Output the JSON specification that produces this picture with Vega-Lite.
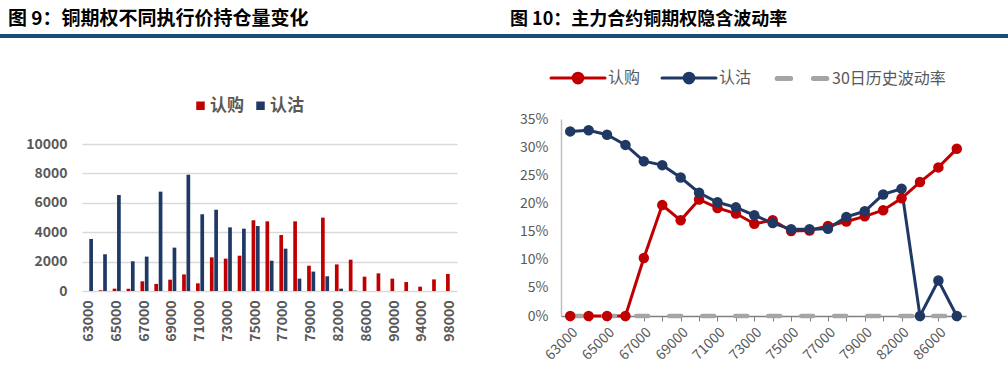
{
  "$schema": "https://vega.github.io/schema/vega-lite/v6.json",
  "padding": {"top": 10, "left": 0, "right": 0, "bottom": 0},
  "background": "white",
  "config": {"font": "Noto Sans CJK SC", "view": {"stroke": null}},
  "datasets": {
    "oi": [
      {"strike": 63000, "series": "认购", "oi": 0}, {"strike": 63000, "series": "认沽", "oi": 3540},
      {"strike": 64000, "series": "认购", "oi": 50}, {"strike": 64000, "series": "认沽", "oi": 2500},
      {"strike": 65000, "series": "认购", "oi": 160}, {"strike": 65000, "series": "认沽", "oi": 6530},
      {"strike": 66000, "series": "认购", "oi": 160}, {"strike": 66000, "series": "认沽", "oi": 2020},
      {"strike": 67000, "series": "认购", "oi": 660}, {"strike": 67000, "series": "认沽", "oi": 2340},
      {"strike": 68000, "series": "认购", "oi": 480}, {"strike": 68000, "series": "认沽", "oi": 6760},
      {"strike": 69000, "series": "认购", "oi": 770}, {"strike": 69000, "series": "认沽", "oi": 2950},
      {"strike": 70000, "series": "认购", "oi": 1130}, {"strike": 70000, "series": "认沽", "oi": 7910},
      {"strike": 71000, "series": "认购", "oi": 520}, {"strike": 71000, "series": "认沽", "oi": 5220},
      {"strike": 72000, "series": "认购", "oi": 2290}, {"strike": 72000, "series": "认沽", "oi": 5530},
      {"strike": 73000, "series": "认购", "oi": 2200}, {"strike": 73000, "series": "认沽", "oi": 4330},
      {"strike": 74000, "series": "认购", "oi": 2400}, {"strike": 74000, "series": "认沽", "oi": 4240},
      {"strike": 75000, "series": "认购", "oi": 4810}, {"strike": 75000, "series": "认沽", "oi": 4420},
      {"strike": 76000, "series": "认购", "oi": 4740}, {"strike": 76000, "series": "认沽", "oi": 2060},
      {"strike": 77000, "series": "认购", "oi": 3810}, {"strike": 77000, "series": "认沽", "oi": 2880},
      {"strike": 78000, "series": "认购", "oi": 4740}, {"strike": 78000, "series": "认沽", "oi": 840},
      {"strike": 79000, "series": "认购", "oi": 1720}, {"strike": 79000, "series": "认沽", "oi": 1320},
      {"strike": 80000, "series": "认购", "oi": 4990}, {"strike": 80000, "series": "认沽", "oi": 1000},
      {"strike": 82000, "series": "认购", "oi": 1810}, {"strike": 82000, "series": "认沽", "oi": 160},
      {"strike": 84000, "series": "认购", "oi": 2130}, {"strike": 84000, "series": "认沽", "oi": 30},
      {"strike": 86000, "series": "认购", "oi": 975}, {"strike": 86000, "series": "认沽", "oi": 0},
      {"strike": 88000, "series": "认购", "oi": 1200}, {"strike": 88000, "series": "认沽", "oi": 0},
      {"strike": 90000, "series": "认购", "oi": 840}, {"strike": 90000, "series": "认沽", "oi": 0},
      {"strike": 92000, "series": "认购", "oi": 610}, {"strike": 92000, "series": "认沽", "oi": 0},
      {"strike": 94000, "series": "认购", "oi": 295}, {"strike": 94000, "series": "认沽", "oi": 0},
      {"strike": 96000, "series": "认购", "oi": 790}, {"strike": 96000, "series": "认沽", "oi": 0},
      {"strike": 98000, "series": "认购", "oi": 1160}, {"strike": 98000, "series": "认沽", "oi": 0}
    ],
    "iv": [
      {"strike": 63000, "series": "认购", "iv": 0}, {"strike": 63000, "series": "认沽", "iv": 0.328}, {"strike": 63000, "series": "30日历史波动率", "iv": 0},
      {"strike": 64000, "series": "认购", "iv": 0}, {"strike": 64000, "series": "认沽", "iv": 0.330}, {"strike": 64000, "series": "30日历史波动率", "iv": 0},
      {"strike": 65000, "series": "认购", "iv": 0}, {"strike": 65000, "series": "认沽", "iv": 0.322}, {"strike": 65000, "series": "30日历史波动率", "iv": 0},
      {"strike": 66000, "series": "认购", "iv": 0}, {"strike": 66000, "series": "认沽", "iv": 0.304}, {"strike": 66000, "series": "30日历史波动率", "iv": 0},
      {"strike": 67000, "series": "认购", "iv": 0.103}, {"strike": 67000, "series": "认沽", "iv": 0.275}, {"strike": 67000, "series": "30日历史波动率", "iv": 0},
      {"strike": 68000, "series": "认购", "iv": 0.197}, {"strike": 68000, "series": "认沽", "iv": 0.268}, {"strike": 68000, "series": "30日历史波动率", "iv": 0},
      {"strike": 69000, "series": "认购", "iv": 0.170}, {"strike": 69000, "series": "认沽", "iv": 0.246}, {"strike": 69000, "series": "30日历史波动率", "iv": 0},
      {"strike": 70000, "series": "认购", "iv": 0.207}, {"strike": 70000, "series": "认沽", "iv": 0.219}, {"strike": 70000, "series": "30日历史波动率", "iv": 0},
      {"strike": 71000, "series": "认购", "iv": 0.192}, {"strike": 71000, "series": "认沽", "iv": 0.202}, {"strike": 71000, "series": "30日历史波动率", "iv": 0},
      {"strike": 72000, "series": "认购", "iv": 0.182}, {"strike": 72000, "series": "认沽", "iv": 0.193}, {"strike": 72000, "series": "30日历史波动率", "iv": 0},
      {"strike": 73000, "series": "认购", "iv": 0.164}, {"strike": 73000, "series": "认沽", "iv": 0.179}, {"strike": 73000, "series": "30日历史波动率", "iv": 0},
      {"strike": 74000, "series": "认购", "iv": 0.170}, {"strike": 74000, "series": "认沽", "iv": 0.165}, {"strike": 74000, "series": "30日历史波动率", "iv": 0},
      {"strike": 75000, "series": "认购", "iv": 0.151}, {"strike": 75000, "series": "认沽", "iv": 0.154}, {"strike": 75000, "series": "30日历史波动率", "iv": 0},
      {"strike": 76000, "series": "认购", "iv": 0.152}, {"strike": 76000, "series": "认沽", "iv": 0.154}, {"strike": 76000, "series": "30日历史波动率", "iv": 0},
      {"strike": 77000, "series": "认购", "iv": 0.160}, {"strike": 77000, "series": "认沽", "iv": 0.155}, {"strike": 77000, "series": "30日历史波动率", "iv": 0},
      {"strike": 78000, "series": "认购", "iv": 0.168}, {"strike": 78000, "series": "认沽", "iv": 0.176}, {"strike": 78000, "series": "30日历史波动率", "iv": 0},
      {"strike": 79000, "series": "认购", "iv": 0.177}, {"strike": 79000, "series": "认沽", "iv": 0.186}, {"strike": 79000, "series": "30日历史波动率", "iv": 0},
      {"strike": 80000, "series": "认购", "iv": 0.188}, {"strike": 80000, "series": "认沽", "iv": 0.216}, {"strike": 80000, "series": "30日历史波动率", "iv": 0},
      {"strike": 82000, "series": "认购", "iv": 0.209}, {"strike": 82000, "series": "认沽", "iv": 0.226}, {"strike": 82000, "series": "30日历史波动率", "iv": 0},
      {"strike": 84000, "series": "认购", "iv": 0.238}, {"strike": 84000, "series": "认沽", "iv": 0}, {"strike": 84000, "series": "30日历史波动率", "iv": 0},
      {"strike": 86000, "series": "认购", "iv": 0.264}, {"strike": 86000, "series": "认沽", "iv": 0.063}, {"strike": 86000, "series": "30日历史波动率", "iv": 0},
      {"strike": 88000, "series": "认购", "iv": 0.297}, {"strike": 88000, "series": "认沽", "iv": 0}, {"strike": 88000, "series": "30日历史波动率", "iv": 0}
    ]
  },
  "spacing": 32,
  "resolve": {"scale": {"color": "independent", "x": "independent", "y": "independent"}, "legend": {"color": "independent"}},
  "vconcat": [
    {
      "spacing": 0,
      "hconcat": [
        {
          "width": 504, "height": 4,
          "title": {"text": "图 9：铜期权不同执行价持仓量变化", "anchor": "start", "dx": 8, "fontSize": 19, "fontWeight": "bold", "color": "#000000", "offset": 5},
          "data": {"values": [{"k": 1}]},
          "mark": {"type": "rect", "color": "#154f78"},
          "encoding": {}
        },
        {
          "width": 504, "height": 4,
          "title": {"text": "图 10：主力合约铜期权隐含波动率", "anchor": "start", "dx": 6, "fontSize": 18, "fontWeight": "bold", "color": "#000000", "offset": 5},
          "data": {"values": [{"k": 1}]},
          "mark": {"type": "rect", "color": "#154f78"},
          "encoding": {}
        }
      ]
    },
    {
      "spacing": 60,
      "resolve": {"scale": {"color": "independent", "x": "independent", "y": "independent"}, "legend": {"color": "independent"}},
      "hconcat": [
        {
          "width": 457, "height": 172,
          "data": {"name": "oi"},
          "mark": {"type": "bar"},
          "encoding": {
            "x": {
              "field": "strike", "type": "ordinal",
              "scale": {"range": [82, 457], "paddingInner": 0.42, "paddingOuter": 0.21},
              "axis": {"title": null, "labelAngle": -90, "labelExpr": "(datum.value < 81000 && datum.value % 2000 == 1000) || (datum.value > 81000 && datum.value % 4000 == 2000) ? datum.label : ''", "labelFontSize": 14, "labelFontWeight": "bold", "labelColor": "#595959", "ticks": false, "domain": false, "labelPadding": 9, "labelOverlap": false}
            },
            "xOffset": {"field": "series", "type": "nominal", "sort": ["认购", "认沽"], "scale": {"paddingInner": 0.15}},
            "y": {
              "field": "oi", "type": "quantitative",
              "scale": {"domain": [0, 11701]},
              "axis": {"title": null, "values": [0, 2000, 4000, 6000, 8000, 10000], "format": "d", "offset": -82, "grid": true, "gridColor": "#d9d9d9", "gridWidth": 1.5, "domain": false, "ticks": false, "labelPadding": 15, "labelFontSize": 14, "labelFontWeight": "bold", "labelColor": "#595959"}
            },
            "color": {
              "field": "series", "type": "nominal", "sort": ["认购", "认沽"],
              "scale": {"domain": ["认购", "认沽"], "range": ["#C00000", "#1F3864"]},
              "legend": {"title": null, "orient": "none", "legendX": 192, "legendY": -22, "padding": 0, "direction": "horizontal", "symbolType": "square", "symbolSize": 72, "labelFontSize": 17, "labelFontWeight": "bold", "labelColor": "#595959", "labelOffset": 1, "columnPadding": 8}
            }
          }
        },
        {
          "width": 405, "height": 197,
          "data": {"name": "iv"},
          "encoding": {
            "x": {
              "field": "strike", "type": "ordinal",
              "scale": {"type": "point", "padding": 0.5},
              "axis": {"title": null, "labelAngle": -45, "labelExpr": "(datum.value < 81000 && datum.value % 2000 == 1000) || (datum.value > 81000 && datum.value % 4000 == 2000) ? datum.label : ''", "labelFontSize": 14, "labelColor": "#595959", "domainColor": "#7f7f7f", "domainWidth": 1.5, "tickColor": "#7f7f7f", "tickSize": 5, "ticks": true, "labelPadding": 4, "labelOverlap": false, "grid": false}
            },
            "y": {
              "field": "iv", "type": "quantitative",
              "scale": {"domain": [0, 0.35]},
              "axis": {"title": null, "values": [0, 0.05, 0.1, 0.15, 0.2, 0.25, 0.3, 0.35], "format": ".0%", "grid": false, "ticks": false, "domain": true, "domainColor": "#bfbfbf", "domainWidth": 1.5, "labelFontSize": 14, "labelColor": "#595959", "labelPadding": 13, "minExtent": 44}
            },
            "color": {
              "field": "series", "type": "nominal", "sort": ["认购", "认沽", "30日历史波动率"],
              "scale": {"domain": ["认购", "认沽", "30日历史波动率"], "range": ["#C00000", "#1F3864", "#A5A5A5"]},
              "legend": {
                "title": null, "orient": "none", "legendX": 9, "legendY": -49, "padding": 0, "direction": "horizontal",
                "symbolSize": 2916, "labelFontSize": 16, "labelColor": "#595959", "labelOffset": 22, "columnPadding": 15,
                "encode": {
                  "symbols": {
                    "update": {
                      "shape": {"signal": "datum.value === '30日历史波动率' ? 'M-0.92,0H-0.42M0.42,0H0.92' : 'M-1,0H1M0.18,0A0.18,0.18,0,1,1,-0.18,0A0.18,0.18,0,1,1,0.18,0Z'"},
                      "size": {"value": 2916},
                      "strokeWidth": {"signal": "datum.value === '30日历史波动率' ? 5 : 3"},
                      "strokeCap": {"value": "round"},
                      "fill": {"signal": "datum.value === '认购' ? '#C00000' : datum.value === '认沽' ? '#1F3864' : '#A5A5A5'"},
                      "stroke": {"signal": "datum.value === '认购' ? '#C00000' : datum.value === '认沽' ? '#1F3864' : '#A5A5A5'"},
                      "strokeDash": {"value": []},
                      "opacity": {"value": 1},
                      "fillOpacity": {"value": 1},
                      "strokeOpacity": {"value": 1}
                    }
                  }
                }
              }
            }
          },
          "layer": [
            {"transform": [{"filter": "datum.series != '30日历史波动率'"}], "mark": {"type": "line", "strokeWidth": 3}},
            {"transform": [{"filter": "datum.series == '30日历史波动率'"}], "mark": {"type": "line", "strokeWidth": 4.5, "strokeDash": [12, 21], "strokeCap": "round"}},
            {"transform": [{"filter": "datum.series != '30日历史波动率'"}], "mark": {"type": "point", "filled": true, "size": 110, "opacity": 1}}
          ]
        }
      ]
    }
  ]
}
